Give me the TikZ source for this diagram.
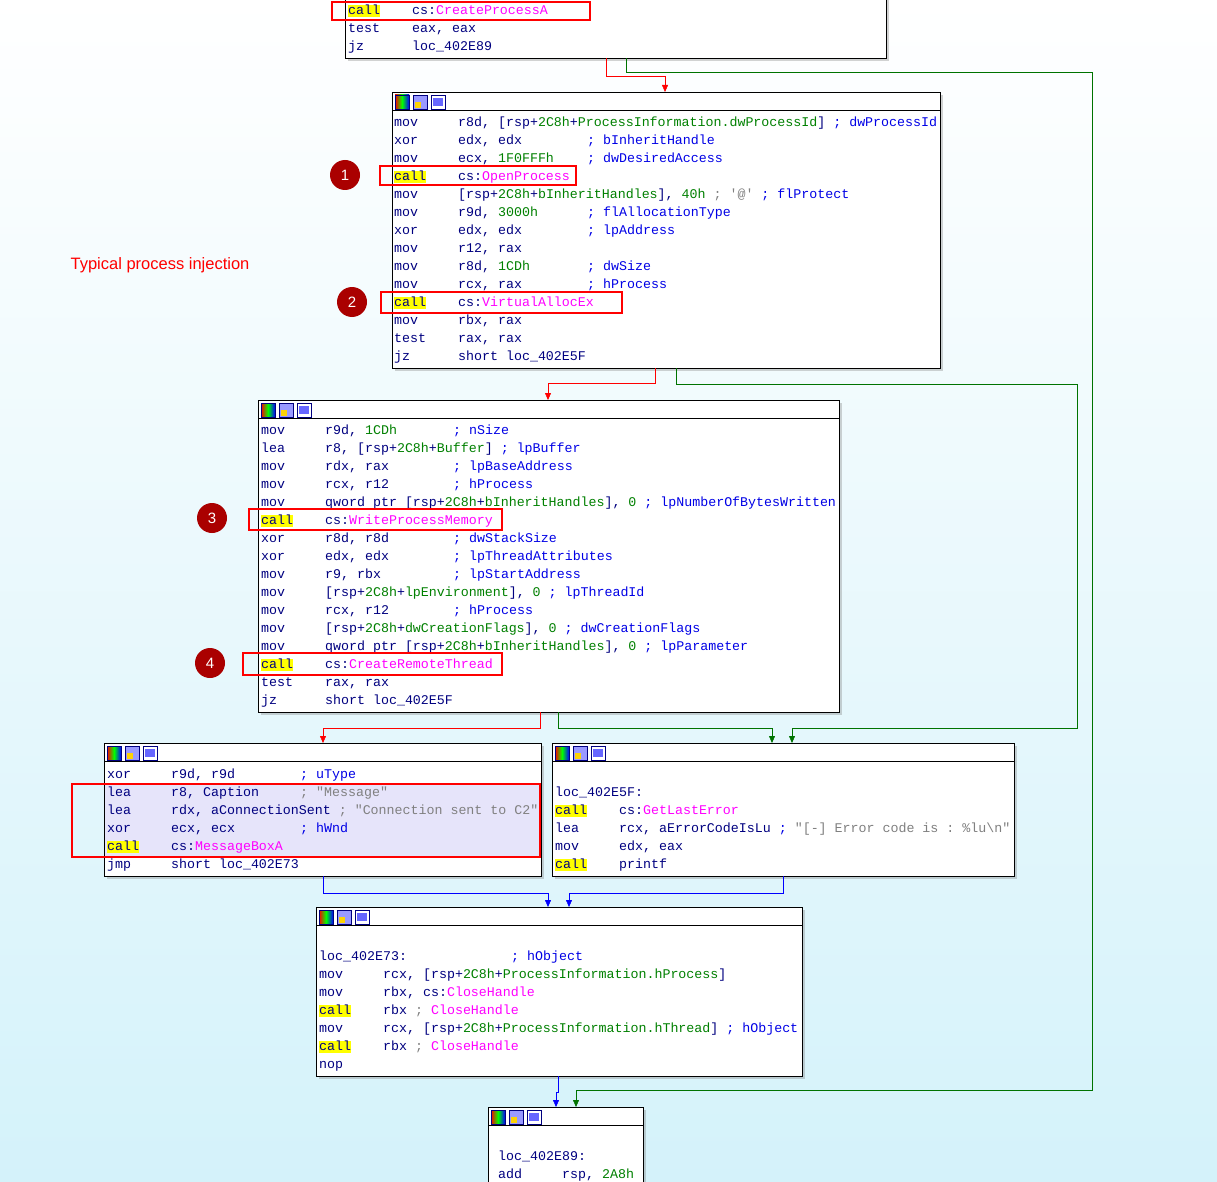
\documentclass[tikz,border=0pt]{standalone}
\usepackage{fontspec}
\setmonofont{Liberation Mono}[WordSpace={1,0,0}]
\newfontfamily\lblfont{Liberation Sans}
\usetikzlibrary{arrows.meta,shadows}
\definecolor{insn}{RGB}{0,0,128}
\definecolor{cmt}{RGB}{0,0,230}
\definecolor{num}{RGB}{0,128,0}
\definecolor{fname}{RGB}{255,0,255}
\definecolor{strg}{RGB}{128,128,128}
\definecolor{callyel}{RGB}{255,255,0}
\definecolor{lav}{RGB}{230,228,250}
\definecolor{bgcyan}{RGB}{212,242,250}
\definecolor{dred}{RGB}{170,0,0}
\newcommand{\gr}[1]{\textcolor{num}{#1}}
\newcommand{\fn}[1]{\textcolor{fname}{#1}}
\newcommand{\cm}[1]{\textcolor{cmt}{#1}}
\newcommand{\st}[1]{\textcolor{strg}{#1}}
% one listing line: x, y, mnemonic, operands
\newcommand{\asml}[4]{\node[tx] at (#1,#2+1) {#3}; \node[tx] at (#1+64,#2+1) {#4};}
\newcommand{\asmcall}[3]{\node[tx,fill=callyel] at (#1,#2+1) {call}; \node[tx] at (#1+64,#2+1) {#3};}
\newcommand{\cmat}[3]{\node[tx] at (#1,#2+1) {\cm{#3}};}
\newcommand{\icons}[2]{%
  \shade[left color=red, right color=blue, middle color=green] (#1+3,#2+3) rectangle ++(14,14);
  \draw[insn] (#1+3,#2+3) rectangle ++(14,14);
  \fill[blue!40] (#1+21,#2+3) rectangle ++(14,14); \draw[insn] (#1+21,#2+3) rectangle ++(14,14);
  \fill[yellow!70!orange] (#1+23,#2+10) rectangle ++(6,6);
  \fill[white] (#1+39,#2+3) rectangle ++(14,14); \draw[insn] (#1+39,#2+3) rectangle ++(14,14);
  \fill[blue!60] (#1+41,#2+6) rectangle ++(10,8);}
\begin{document}
\begin{tikzpicture}[x=1pt,y=-1pt,
  blk/.style={draw=black, fill=white, anchor=north west, inner sep=0pt,
    drop shadow={shadow xshift=3pt, shadow yshift=-3pt, opacity=.35, fill=gray}},
  tx/.style={anchor=west, inner sep=0pt, text height=9.5pt, text depth=3pt,
    font=\ttfamily\fontsize{13.3}{16}\selectfont, text=insn},
  hot/.style={draw=red, line width=1.2pt},
  no/.style={circle, fill=dred, text=white, minimum size=30pt, inner sep=0pt,
    font=\lblfont\fontsize{15}{17}\selectfont},
  ft/.style={red, -{Triangle[width=6pt,length=7pt]}},
  tr/.style={num!90!black, -{Triangle[width=6pt,length=7pt]}},
  jp/.style={blue, -{Triangle[width=6pt,length=7pt]}}]
\useasboundingbox (0,0) rectangle (1217,1182);
\shade[top color=white, bottom color=bgcyan] (0,0) rectangle (1217,1182);

% blocks
\node[blk, minimum width=541pt, minimum height=78pt] (b0) at (345,-20) {};
\node[blk, minimum width=548pt, minimum height=276pt] (b1) at (392,92) {};
\node[blk, minimum width=581pt, minimum height=312pt] (b2) at (258,400) {};
\node[blk, minimum width=437pt, minimum height=133pt] (b3) at (104,743) {};
\node[blk, minimum width=462pt, minimum height=133pt] (b4) at (552,743) {};
\node[blk, minimum width=486pt, minimum height=169pt] (b5) at (316,907) {};
\node[blk, minimum width=155pt, minimum height=90pt] (b6) at (488,1107) {};
\foreach \b in {b1,b2,b3,b4,b5,b6}
  \draw ([yshift=-18pt]\b.north west) -- ([yshift=-18pt]\b.north east);
\icons{392}{92} \icons{258}{400} \icons{104}{743} \icons{552}{743} \icons{316}{907} \icons{488}{1107}

% b0
\asmcall{348}{10}{cs:\fn{CreateProcessA}}
\asml{348}{28}{test}{eax, eax}
\asml{348}{46}{jz}{loc\_402E89}
\draw[hot] (332,2) rectangle (590,20);

% b1
\asml{394}{122}{mov}{r8d, [rsp+\gr{2C8h}+\gr{ProcessInformation.dwProcessId}] \cm{; dwProcessId}}
\asml{394}{140}{xor}{edx, edx} \cmat{587}{140}{; bInheritHandle}
\asml{394}{158}{mov}{ecx, \gr{1F0FFFh}} \cmat{587}{158}{; dwDesiredAccess}
\asmcall{394}{176}{cs:\fn{OpenProcess}}
\asml{394}{194}{mov}{[rsp+\gr{2C8h}+\gr{bInheritHandles}], \gr{40h} \st{; '@'} \cm{; flProtect}}
\asml{394}{212}{mov}{r9d, \gr{3000h}} \cmat{587}{212}{; flAllocationType}
\asml{394}{230}{xor}{edx, edx} \cmat{587}{230}{; lpAddress}
\asml{394}{248}{mov}{r12, rax}
\asml{394}{266}{mov}{r8d, \gr{1CDh}} \cmat{587}{266}{; dwSize}
\asml{394}{284}{mov}{rcx, rax} \cmat{587}{284}{; hProcess}
\asmcall{394}{302}{cs:\fn{VirtualAllocEx}}
\asml{394}{320}{mov}{rbx, rax}
\asml{394}{338}{test}{rax, rax}
\asml{394}{356}{jz}{short loc\_402E5F}
\draw[hot] (380,166) rectangle (576,185);
\draw[hot] (381,292) rectangle (622,313);

% b2
\asml{261}{430}{mov}{r9d, \gr{1CDh}} \cmat{453}{430}{; nSize}
\asml{261}{448}{lea}{r8, [rsp+\gr{2C8h}+\gr{Buffer}] \cm{; lpBuffer}}
\asml{261}{466}{mov}{rdx, rax} \cmat{453}{466}{; lpBaseAddress}
\asml{261}{484}{mov}{rcx, r12} \cmat{453}{484}{; hProcess}
\asml{261}{502}{mov}{qword ptr [rsp+\gr{2C8h}+\gr{bInheritHandles}], \gr{0} \cm{; lpNumberOfBytesWritten}}
\asmcall{261}{520}{cs:\fn{WriteProcessMemory}}
\asml{261}{538}{xor}{r8d, r8d} \cmat{453}{538}{; dwStackSize}
\asml{261}{556}{xor}{edx, edx} \cmat{453}{556}{; lpThreadAttributes}
\asml{261}{574}{mov}{r9, rbx} \cmat{453}{574}{; lpStartAddress}
\asml{261}{592}{mov}{[rsp+\gr{2C8h}+\gr{lpEnvironment}], \gr{0} \cm{; lpThreadId}}
\asml{261}{610}{mov}{rcx, r12} \cmat{453}{610}{; hProcess}
\asml{261}{628}{mov}{[rsp+\gr{2C8h}+\gr{dwCreationFlags}], \gr{0} \cm{; dwCreationFlags}}
\asml{261}{646}{mov}{qword ptr [rsp+\gr{2C8h}+\gr{bInheritHandles}], \gr{0} \cm{; lpParameter}}
\asmcall{261}{664}{cs:\fn{CreateRemoteThread}}
\asml{261}{682}{test}{rax, rax}
\asml{261}{700}{jz}{short loc\_402E5F}
\draw[hot] (249,509) rectangle (502,530);
\draw[hot] (243,653) rectangle (502,675);

% b3
\fill[lav] (105,784) rectangle (540,856);
\asml{107}{774}{xor}{r9d, r9d} \cmat{300}{774}{; uType}
\asml{107}{792}{lea}{r8, Caption} \node[tx] at (300,793) {\st{; "Message"}};
\asml{107}{810}{lea}{rdx, aConnectionSent \st{; "Connection sent to C2"}}
\asml{107}{828}{xor}{ecx, ecx} \cmat{300}{828}{; hWnd}
\asmcall{107}{846}{cs:\fn{MessageBoxA}}
\asml{107}{864}{jmp}{short loc\_402E73}
\draw[hot] (72,784) rectangle (540,857);

% b4
\node[tx] at (555,793) {loc\_402E5F:};
\asmcall{555}{810}{cs:\fn{GetLastError}}
\asml{555}{828}{lea}{rcx, aErrorCodeIsLu \cm{;} \st{"[-] Error code is : \%lu\textbackslash n"}}
\asml{555}{846}{mov}{edx, eax}
\asmcall{555}{864}{printf}

% b5
\node[tx] at (319,957) {loc\_402E73:}; \cmat{511}{956}{; hObject}
\asml{319}{974}{mov}{rcx, [rsp+\gr{2C8h}+\gr{ProcessInformation.hProcess}]}
\asml{319}{992}{mov}{rbx, cs:\fn{CloseHandle}}
\asmcall{319}{1010}{rbx \st{;} \fn{CloseHandle}}
\asml{319}{1028}{mov}{rcx, [rsp+\gr{2C8h}+\gr{ProcessInformation.hThread}] \cm{; hObject}}
\asmcall{319}{1046}{rbx \st{;} \fn{CloseHandle}}
\node[tx] at (319,1065) {nop};

% b6
\node[tx] at (498,1157) {loc\_402E89:};
\asml{498}{1174}{add}{rsp, \gr{2A8h}}

% numbered markers and caption
\node[no] (n1) at (345,175) {1};
\node[no] (n2) at (352,302) {2};
\node[no] (n3) at (212,518) {3};
\node[no] (n4) at (210,663) {4};
\node[text=red, font=\lblfont\fontsize{16.5}{19}\selectfont] (cap) at (160,265) {Typical process injection};

% edges
\draw[ft] ([xshift=261pt]b0.south west) -- ++(0,-18pt) -| ([xshift=273pt]b1.north west);
\draw[tr] ([xshift=281pt]b0.south west) -- ++(0,-14pt) -| (1092,1090) -| ([xshift=88pt]b6.north west);
\draw[ft] ([xshift=263pt]b1.south west) -- ++(0,-15pt) -| ([xshift=290pt]b2.north west);
\draw[tr] ([xshift=284pt]b1.south west) -- ++(0,-16pt) -| (1077,728) -| ([xshift=240pt]b4.north west);
\draw[ft] ([xshift=282pt]b2.south west) -- ++(0,-16pt) -| ([xshift=219pt]b3.north west);
\draw[tr] ([xshift=300pt]b2.south west) -- ++(0,-16pt) -| ([xshift=220pt]b4.north west);
\draw[jp] ([xshift=219pt]b3.south west) -- ++(0,-17pt) -| ([xshift=232pt]b5.north west);
\draw[jp] ([xshift=231pt]b4.south west) -- ++(0,-17pt) -| ([xshift=253pt]b5.north west);
\draw[jp] ([xshift=242pt]b5.south west) -- ++(0,-16pt) -| ([xshift=68pt]b6.north west);
\end{tikzpicture}
\end{document}
